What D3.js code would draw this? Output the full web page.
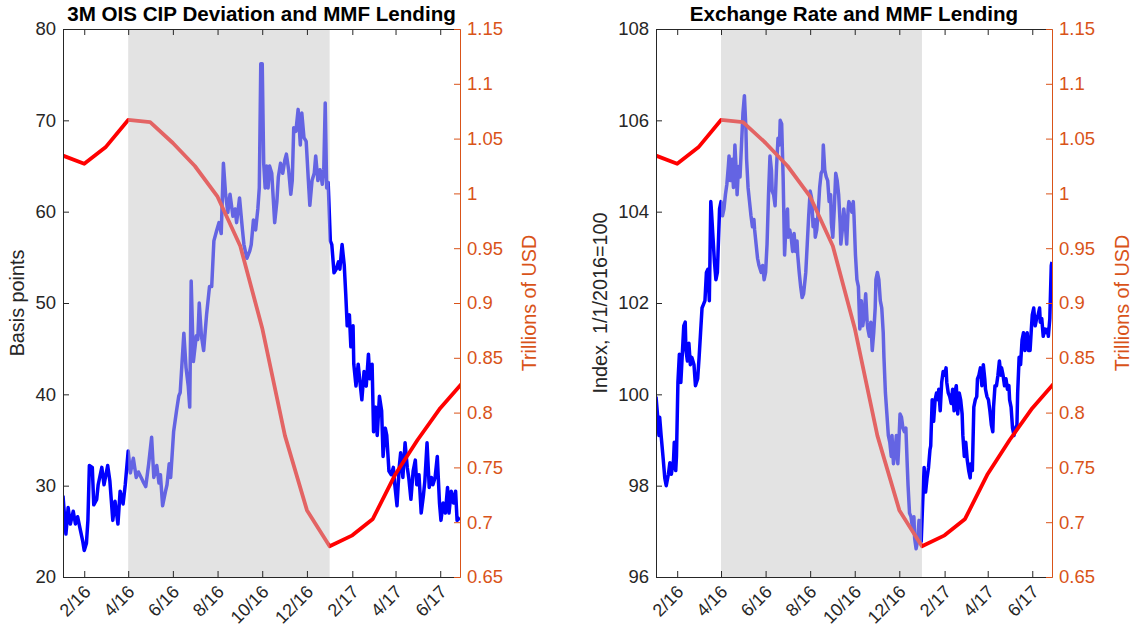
<!DOCTYPE html>
<html>
<head>
<meta charset="utf-8">
<script src="https://cdn.jsdelivr.net/npm/d3@7"></script>
<style>
  body { margin: 0; background: #fff; }
  text { font-family: "Liberation Sans", Arial, Helvetica, sans-serif; }
</style>
</head>
<body>
<script>
// Chart size
var svgWidth = 1135;
var svgHeight = 630;

// Date range of both panels and the shaded period
var xStart = "2016-01-03";
var xEnd = "2017-06-28";
var shadeStart = "2016-04-01";
var shadeEnd = "2017-01-01";

var xTickDates = ["2016-02-01", "2016-04-01", "2016-06-01", "2016-08-01", "2016-10-01",
  "2016-12-01", "2017-02-01", "2017-04-01", "2017-06-01"];
var xTickLabels = ["2/16", "4/16", "6/16", "8/16", "10/16", "12/16", "2/17", "4/17", "6/17"];

var cipTicks = [20, 30, 40, 50, 60, 70, 80];
var fxTicks = [96, 98, 100, 102, 104, 106, 108];
var mmfTicks = [0.65, 0.7, 0.75, 0.8, 0.85, 0.9, 0.95, 1, 1.05, 1.1, 1.15];

// MMF lending, trillions of USD (monthly)
var mmfLending = [
  ["2016-01-01", 1.035], ["2016-02-01", 1.027], ["2016-03-01", 1.042], ["2016-04-01", 1.067],
  ["2016-05-01", 1.065], ["2016-06-01", 1.046], ["2016-07-01", 1.025], ["2016-08-01", 0.997],
  ["2016-09-01", 0.952], ["2016-10-01", 0.877], ["2016-11-01", 0.779], ["2016-12-01", 0.711],
  ["2017-01-01", 0.678], ["2017-02-01", 0.688], ["2017-03-01", 0.703], ["2017-04-01", 0.744],
  ["2017-05-01", 0.775], ["2017-06-01", 0.804], ["2017-07-01", 0.827]
];

// 3M OIS CIP deviation, basis points
var cipDeviation = [
  ["2016-01-03", 28.9], ["2016-01-07", 24.7], ["2016-01-10", 27.6], ["2016-01-13", 25.8],
  ["2016-01-17", 27.2], ["2016-01-20", 25.8], ["2016-01-23", 26.6], ["2016-01-26", 25.4],
  ["2016-01-30", 23.9], ["2016-02-01", 22.9], ["2016-02-04", 23.7], ["2016-02-06", 26.2],
  ["2016-02-08", 32.2], ["2016-02-12", 32.0], ["2016-02-14", 27.9], ["2016-02-18", 28.5],
  ["2016-02-20", 30.1], ["2016-02-25", 32.0], ["2016-02-28", 30.1], ["2016-03-04", 32.2],
  ["2016-03-07", 30.5], ["2016-03-11", 26.2], ["2016-03-14", 28.3], ["2016-03-18", 25.8],
  ["2016-03-21", 29.4], ["2016-03-25", 28.0], ["2016-03-28", 30.1], ["2016-04-01", 33.8],
  ["2016-04-04", 31.4], ["2016-04-08", 33.0], ["2016-04-12", 30.9], ["2016-04-15", 31.5],
  ["2016-04-21", 30.5], ["2016-04-25", 29.9], ["2016-04-29", 32.4], ["2016-05-03", 35.3],
  ["2016-05-06", 30.9], ["2016-05-10", 32.2], ["2016-05-13", 30.3], ["2016-05-15", 31.2],
  ["2016-05-18", 27.8], ["2016-05-22", 29.4], ["2016-05-24", 30.1], ["2016-05-27", 32.4],
  ["2016-05-29", 30.9], ["2016-06-02", 35.9], ["2016-06-06", 38.2], ["2016-06-09", 39.8],
  ["2016-06-11", 40.2], ["2016-06-16", 46.7], ["2016-06-19", 42.9], ["2016-06-22", 40.9],
  ["2016-06-24", 38.6], ["2016-06-26", 52.4], ["2016-06-29", 43.6], ["2016-07-03", 46.4],
  ["2016-07-05", 46.0], ["2016-07-07", 50.0], ["2016-07-10", 46.4], ["2016-07-13", 44.8],
  ["2016-07-17", 48.7], ["2016-07-21", 51.8], ["2016-07-24", 51.8], ["2016-07-27", 56.8],
  ["2016-07-31", 58.0], ["2016-08-03", 58.8], ["2016-08-06", 57.6], ["2016-08-09", 65.3],
  ["2016-08-12", 61.9], ["2016-08-15", 59.9], ["2016-08-18", 61.9], ["2016-08-22", 59.5],
  ["2016-08-25", 60.3], ["2016-08-27", 58.8], ["2016-08-31", 61.5], ["2016-09-04", 58.0],
  ["2016-09-06", 56.4], ["2016-09-10", 54.9], ["2016-09-14", 55.7], ["2016-09-16", 56.4],
  ["2016-09-19", 59.1], ["2016-09-22", 58.0], ["2016-09-25", 60.3], ["2016-09-27", 62.6],
  ["2016-09-29", 76.2], ["2016-10-01", 76.2], ["2016-10-03", 65.3], ["2016-10-05", 62.6],
  ["2016-10-07", 65.0], ["2016-10-09", 62.6], ["2016-10-11", 65.0], ["2016-10-14", 64.2],
  ["2016-10-16", 61.5], ["2016-10-18", 58.8], ["2016-10-21", 61.1], ["2016-10-23", 63.8],
  ["2016-10-26", 65.3], ["2016-10-29", 64.2], ["2016-11-01", 65.7], ["2016-11-03", 66.3],
  ["2016-11-06", 64.6], ["2016-11-09", 61.9], ["2016-11-11", 63.4], ["2016-11-13", 69.2],
  ["2016-11-16", 68.8], ["2016-11-19", 71.2], ["2016-11-22", 67.3], ["2016-11-24", 70.8],
  ["2016-11-27", 68.1], ["2016-11-30", 67.7], ["2016-12-03", 63.4], ["2016-12-05", 60.7],
  ["2016-12-08", 63.4], ["2016-12-11", 64.2], ["2016-12-13", 66.1], ["2016-12-16", 63.4],
  ["2016-12-19", 64.6], ["2016-12-22", 63.0], ["2016-12-24", 64.6], ["2016-12-26", 71.9],
  ["2016-12-28", 62.6], ["2016-12-30", 63.2], ["2017-01-02", 56.8], ["2017-01-04", 56.4],
  ["2017-01-07", 53.3], ["2017-01-10", 53.7], ["2017-01-13", 54.5], ["2017-01-15", 53.7],
  ["2017-01-18", 56.4], ["2017-01-21", 54.1], ["2017-01-23", 51.0], ["2017-01-25", 47.5],
  ["2017-01-28", 48.7], ["2017-01-30", 45.2], ["2017-02-02", 47.5], ["2017-02-03", 43.3],
  ["2017-02-06", 40.9], ["2017-02-09", 43.3], ["2017-02-12", 40.9], ["2017-02-14", 39.4],
  ["2017-02-17", 42.5], ["2017-02-20", 40.9], ["2017-02-23", 44.4], ["2017-02-25", 41.7],
  ["2017-02-28", 43.3], ["2017-03-02", 35.9], ["2017-03-05", 38.6], ["2017-03-07", 35.5],
  ["2017-03-10", 39.8], ["2017-03-13", 38.2], ["2017-03-15", 33.2], ["2017-03-18", 36.3],
  ["2017-03-20", 35.5], ["2017-03-23", 31.6], ["2017-03-26", 31.2], ["2017-03-29", 32.0],
  ["2017-03-31", 30.1], ["2017-04-03", 27.8], ["2017-04-06", 32.0], ["2017-04-08", 33.6],
  ["2017-04-11", 30.9], ["2017-04-14", 34.7], ["2017-04-17", 32.0], ["2017-04-19", 30.9],
  ["2017-04-22", 28.5], ["2017-04-25", 31.6], ["2017-04-28", 32.8], ["2017-04-30", 30.1],
  ["2017-05-03", 31.2], ["2017-05-06", 27.0], ["2017-05-09", 28.9], ["2017-05-11", 30.5],
  ["2017-05-14", 34.7], ["2017-05-17", 29.8], ["2017-05-20", 30.9], ["2017-05-22", 30.1],
  ["2017-05-25", 30.9], ["2017-05-28", 33.2], ["2017-05-31", 28.1], ["2017-06-02", 26.2],
  ["2017-06-05", 28.1], ["2017-06-08", 27.0], ["2017-06-11", 29.8], ["2017-06-13", 27.0],
  ["2017-06-16", 29.4], ["2017-06-19", 28.1], ["2017-06-22", 29.4], ["2017-06-24", 26.2],
  ["2017-06-28", 26.5]
];

// Exchange rate index, 1/1/2016 = 100
var exchangeRate = [
  ["2016-01-03", 99.95], ["2016-01-05", 99.57], ["2016-01-07", 99.1], ["2016-01-08", 99.5],
  ["2016-01-10", 99.1], ["2016-01-13", 98.56], ["2016-01-15", 98.17], ["2016-01-17", 98.0],
  ["2016-01-20", 98.25], ["2016-01-22", 98.5], ["2016-01-24", 98.25], ["2016-01-27", 98.56],
  ["2016-01-28", 98.95], ["2016-01-30", 98.33], ["2016-01-31", 98.64], ["2016-02-02", 100.26],
  ["2016-02-04", 100.88], ["2016-02-06", 100.26], ["2016-02-08", 100.88], ["2016-02-10", 101.5],
  ["2016-02-12", 101.58], ["2016-02-13", 100.96], ["2016-02-15", 100.73], ["2016-02-17", 101.12],
  ["2016-02-19", 100.65], ["2016-02-21", 100.81], ["2016-02-24", 100.65], ["2016-02-26", 100.19],
  ["2016-02-29", 100.34], ["2016-03-02", 100.81], ["2016-03-04", 101.35], ["2016-03-06", 101.89],
  ["2016-03-08", 101.97], ["2016-03-10", 102.05], ["2016-03-12", 102.67], ["2016-03-14", 102.74],
  ["2016-03-16", 102.05], ["2016-03-18", 104.22], ["2016-03-19", 103.99], ["2016-03-21", 103.44],
  ["2016-03-23", 102.9], ["2016-03-25", 102.51], ["2016-03-27", 102.67], ["2016-03-29", 103.6],
  ["2016-03-30", 104.06], ["2016-04-01", 104.22], ["2016-04-03", 103.91], ["2016-04-05", 104.06],
  ["2016-04-07", 104.37], ["2016-04-09", 104.6], ["2016-04-11", 104.99], ["2016-04-12", 105.22],
  ["2016-04-14", 104.68], ["2016-04-16", 105.15], ["2016-04-18", 104.53], ["2016-04-20", 105.46],
  ["2016-04-22", 104.84], ["2016-04-23", 104.37], ["2016-04-25", 104.99], ["2016-04-27", 104.76],
  ["2016-04-29", 105.46], ["2016-05-01", 106.16], ["2016-05-03", 106.54], ["2016-05-05", 105.84],
  ["2016-05-06", 105.15], ["2016-05-08", 104.53], ["2016-05-10", 104.22], ["2016-05-12", 103.91],
  ["2016-05-14", 103.67], ["2016-05-16", 103.83], ["2016-05-17", 103.6], ["2016-05-19", 103.29],
  ["2016-05-21", 102.98], ["2016-05-23", 102.82], ["2016-05-26", 102.67], ["2016-05-28", 102.82],
  ["2016-05-30", 102.51], ["2016-06-01", 102.67], ["2016-06-03", 103.29], ["2016-06-05", 104.37],
  ["2016-06-07", 105.22], ["2016-06-09", 104.91], ["2016-06-10", 104.45], ["2016-06-12", 104.37],
  ["2016-06-14", 104.13], ["2016-06-16", 104.99], ["2016-06-18", 105.61], ["2016-06-20", 105.46],
  ["2016-06-21", 106.0], ["2016-06-23", 105.92], ["2016-06-25", 104.76], ["2016-06-27", 103.05],
  ["2016-06-29", 103.75], ["2016-07-01", 104.06], ["2016-07-02", 103.44], ["2016-07-04", 103.6],
  ["2016-07-06", 103.44], ["2016-07-08", 103.13], ["2016-07-10", 103.52], ["2016-07-12", 103.13],
  ["2016-07-14", 103.36], ["2016-07-15", 103.05], ["2016-07-17", 102.67], ["2016-07-19", 102.36],
  ["2016-07-21", 102.12], ["2016-07-23", 102.2], ["2016-07-25", 102.51], ["2016-07-26", 102.67],
  ["2016-07-28", 103.29], ["2016-07-30", 103.91], ["2016-08-01", 104.45], ["2016-08-03", 104.3],
  ["2016-08-05", 103.67], ["2016-08-07", 103.83], ["2016-08-08", 103.44], ["2016-08-10", 103.6],
  ["2016-08-12", 103.99], ["2016-08-14", 104.53], ["2016-08-16", 104.84], ["2016-08-18", 104.91],
  ["2016-08-19", 105.46], ["2016-08-21", 104.91], ["2016-08-23", 104.76], ["2016-08-25", 104.68],
  ["2016-08-27", 104.22], ["2016-08-29", 104.37], ["2016-08-30", 103.75], ["2016-09-01", 103.44],
  ["2016-09-03", 104.06], ["2016-09-05", 104.84], ["2016-09-07", 104.68], ["2016-09-09", 104.37],
  ["2016-09-11", 103.75], ["2016-09-12", 103.29], ["2016-09-14", 103.6], ["2016-09-16", 104.06],
  ["2016-09-18", 103.75], ["2016-09-20", 103.29], ["2016-09-22", 104.06], ["2016-09-23", 104.22],
  ["2016-09-25", 104.13], ["2016-09-27", 103.99], ["2016-09-29", 104.22], ["2016-09-30", 103.91],
  ["2016-10-02", 103.05], ["2016-10-04", 102.51], ["2016-10-06", 102.36], ["2016-10-08", 101.43],
  ["2016-10-10", 102.05], ["2016-10-12", 101.5], ["2016-10-14", 101.74], ["2016-10-16", 102.2],
  ["2016-10-18", 101.58], ["2016-10-19", 101.43], ["2016-10-21", 101.27], ["2016-10-23", 101.58],
  ["2016-10-25", 100.96], ["2016-10-27", 101.35], ["2016-10-29", 101.89], ["2016-10-30", 102.51],
  ["2016-11-01", 102.67], ["2016-11-03", 102.51], ["2016-11-05", 102.05], ["2016-11-07", 101.89],
  ["2016-11-09", 101.35], ["2016-11-10", 100.81], ["2016-11-12", 100.03], ["2016-11-14", 99.57],
  ["2016-11-16", 99.1], ["2016-11-18", 98.95], ["2016-11-20", 98.64], ["2016-11-21", 99.1],
  ["2016-11-23", 98.48], ["2016-11-25", 98.71], ["2016-11-27", 99.1], ["2016-11-29", 98.48],
  ["2016-11-30", 98.79], ["2016-12-02", 99.57], ["2016-12-04", 99.5], ["2016-12-06", 99.26],
  ["2016-12-08", 99.18], ["2016-12-10", 99.26], ["2016-12-12", 98.4], ["2016-12-13", 98.0],
  ["2016-12-15", 97.4], ["2016-12-17", 97.32], ["2016-12-19", 97.09], ["2016-12-21", 97.32],
  ["2016-12-22", 96.85], ["2016-12-24", 96.62], ["2016-12-26", 96.78], ["2016-12-28", 97.24],
  ["2016-12-30", 97.16], ["2016-12-31", 96.78], ["2017-01-02", 97.63], ["2017-01-04", 98.4],
  ["2017-01-06", 97.86], ["2017-01-08", 98.17], ["2017-01-10", 98.4], ["2017-01-12", 98.79],
  ["2017-01-13", 98.87], ["2017-01-15", 99.88], ["2017-01-17", 99.41], ["2017-01-19", 99.88],
  ["2017-01-21", 100.03], ["2017-01-23", 99.88], ["2017-01-24", 100.11], ["2017-01-26", 99.64],
  ["2017-01-28", 100.26], ["2017-01-30", 100.5], ["2017-02-01", 100.42], ["2017-02-03", 100.58],
  ["2017-02-04", 100.26], ["2017-02-06", 100.03], ["2017-02-08", 99.95], ["2017-02-10", 99.8],
  ["2017-02-12", 100.11], ["2017-02-14", 99.64], ["2017-02-15", 100.03], ["2017-02-17", 100.19],
  ["2017-02-19", 99.57], ["2017-02-21", 100.03], ["2017-02-23", 99.88], ["2017-02-25", 99.57],
  ["2017-02-26", 99.1], ["2017-02-28", 98.64], ["2017-03-02", 98.95], ["2017-03-04", 98.56],
  ["2017-03-06", 98.33], ["2017-03-08", 98.17], ["2017-03-09", 98.48], ["2017-03-11", 98.33],
  ["2017-03-13", 99.72], ["2017-03-15", 99.88], ["2017-03-17", 99.95], ["2017-03-18", 100.34],
  ["2017-03-20", 100.42], ["2017-03-22", 100.58], ["2017-03-24", 100.19], ["2017-03-26", 100.65],
  ["2017-03-28", 100.34], ["2017-03-29", 100.11], ["2017-03-31", 99.95], ["2017-04-02", 99.88],
  ["2017-04-04", 99.64], ["2017-04-06", 99.33], ["2017-04-08", 99.18], ["2017-04-09", 99.72],
  ["2017-04-11", 100.19], ["2017-04-13", 100.19], ["2017-04-15", 100.42], ["2017-04-17", 100.73],
  ["2017-04-19", 100.42], ["2017-04-20", 100.58], ["2017-04-22", 100.42], ["2017-04-24", 100.19],
  ["2017-04-26", 100.34], ["2017-04-28", 100.11], ["2017-04-30", 100.19], ["2017-05-01", 99.88],
  ["2017-05-03", 99.72], ["2017-05-05", 99.26], ["2017-05-07", 99.1], ["2017-05-09", 99.26],
  ["2017-05-11", 99.33], ["2017-05-12", 100.03], ["2017-05-14", 100.81], ["2017-05-16", 100.65],
  ["2017-05-18", 101.19], ["2017-05-20", 101.35], ["2017-05-22", 100.96], ["2017-05-23", 101.12],
  ["2017-05-25", 101.35], ["2017-05-27", 100.96], ["2017-05-29", 100.96], ["2017-05-31", 101.5],
  ["2017-06-01", 101.74], ["2017-06-03", 101.89], ["2017-06-05", 101.5], ["2017-06-07", 101.66],
  ["2017-06-09", 101.74], ["2017-06-11", 101.89], ["2017-06-12", 101.58], ["2017-06-14", 101.66],
  ["2017-06-16", 101.27], ["2017-06-18", 101.43], ["2017-06-20", 101.35], ["2017-06-22", 101.43],
  ["2017-06-23", 101.27], ["2017-06-25", 101.66], ["2017-06-27", 102.82], ["2017-06-28", 102.9]
];

// Layout
var plotTop = 29;
var plotBottom = 577;
var axisColor = "#262626";
var rightColor = "#D95319";
var fontFamily = '"Liberation Sans", Arial, Helvetica, sans-serif';

var panels = [
  { left: 63, right: 460, title: "3M OIS CIP Deviation and MMF Lending",
    yLabel: "Basis points", yLabelX: 24, rightLabelX: 536,
    yDomain: [20, 80], yTicks: cipTicks, series: cipDeviation },
  { left: 656, right: 1052, title: "Exchange Rate and MMF Lending",
    yLabel: "Index, 1/1/2016=100", yLabelX: 607, rightLabelX: 1129,
    yDomain: [96, 108], yTicks: fxTicks, series: exchangeRate }
];

var parseDate = d3.timeParse("%Y-%m-%d");

var svg = d3.select("body")
  .append("svg")
  .attr("width", svgWidth)
  .attr("height", svgHeight);

panels.forEach(function(p, i) {
  var xScale = d3.scaleTime()
    .domain([parseDate(xStart), parseDate(xEnd)])
    .range([p.left, p.right]);
  var yLeft = d3.scaleLinear().domain(p.yDomain).range([plotBottom, plotTop]);
  var yRight = d3.scaleLinear().domain([0.65, 1.15]).range([plotBottom, plotTop]);

  svg.append("clipPath").attr("id", "clip" + i)
    .append("rect")
    .attr("x", p.left).attr("y", plotTop)
    .attr("width", p.right - p.left).attr("height", plotBottom - plotTop);

  var plot = svg.append("g").attr("clip-path", "url(#clip" + i + ")");

  var leftLine = d3.line()
    .x(d => xScale(parseDate(d[0])))
    .y(d => yLeft(d[1]));
  var rightLine = d3.line()
    .x(d => xScale(parseDate(d[0])))
    .y(d => yRight(d[1]));

  plot.append("path")
    .datum(p.series)
    .attr("d", leftLine)
    .attr("fill", "none")
    .attr("stroke", "#0000ff")
    .attr("stroke-width", 3.5)
    .attr("stroke-linejoin", "round");

  plot.append("path")
    .datum(mmfLending)
    .attr("d", rightLine)
    .attr("fill", "none")
    .attr("stroke", "#ff0000")
    .attr("stroke-width", 3.8)
    .attr("stroke-linejoin", "round");

  // shaded period sits over the lines
  var s0 = xScale(parseDate(shadeStart));
  var s1 = xScale(parseDate(shadeEnd));
  plot.append("rect")
    .attr("x", s0).attr("y", plotTop)
    .attr("width", s1 - s0).attr("height", plotBottom - plotTop)
    .attr("fill", "#c8c8c8")
    .attr("fill-opacity", 0.5);

  var tickDates = xTickDates.map(parseDate);

  // bottom axis, inward ticks, rotated labels
  var bottomAxis = d3.axisBottom(xScale)
    .tickValues(tickDates)
    .tickSizeInner(-6).tickSizeOuter(0)
    .tickFormat((d, j) => xTickLabels[j]);
  var bx = svg.append("g")
    .attr("transform", `translate(0, ${plotBottom})`)
    .call(bottomAxis);
  bx.attr("font-size", 18).attr("font-family", fontFamily);
  bx.select(".domain").attr("stroke", axisColor);
  bx.selectAll("line").attr("stroke", axisColor);
  bx.selectAll("text")
    .attr("y", 0).attr("dy", null)
    .attr("fill", axisColor)
    .attr("text-anchor", "end")
    .attr("transform", "translate(7, 16) rotate(-45)");

  // top edge with ticks
  var topAxis = d3.axisTop(xScale)
    .tickValues(tickDates)
    .tickSizeInner(-6).tickSizeOuter(0)
    .tickFormat("");
  var tx = svg.append("g")
    .attr("transform", `translate(0, ${plotTop})`)
    .call(topAxis);
  tx.select(".domain").attr("stroke", axisColor);
  tx.selectAll("line").attr("stroke", axisColor);

  // left axis
  var leftAxis = d3.axisLeft(yLeft)
    .tickValues(p.yTicks)
    .tickSizeInner(-6).tickSizeOuter(0)
    .tickPadding(7);
  var lx = svg.append("g")
    .attr("transform", `translate(${p.left}, 0)`)
    .call(leftAxis);
  lx.attr("font-size", 18.5).attr("font-family", fontFamily);
  lx.select(".domain").attr("stroke", axisColor);
  lx.selectAll("line").attr("stroke", axisColor);
  lx.selectAll("text").attr("fill", axisColor);

  // right axis
  var rightAxis = d3.axisRight(yRight)
    .tickValues(mmfTicks)
    .tickSizeInner(-6).tickSizeOuter(0)
    .tickPadding(7)
    .tickFormat(d3.format(""));
  var rx = svg.append("g")
    .attr("transform", `translate(${p.right}, 0)`)
    .call(rightAxis);
  rx.attr("font-size", 18.5).attr("font-family", fontFamily);
  rx.select(".domain").attr("stroke", rightColor);
  rx.selectAll("line").attr("stroke", rightColor);
  rx.selectAll("text").attr("fill", rightColor);

  // title
  svg.append("text")
    .attr("x", (p.left + p.right) / 2)
    .attr("y", 21)
    .attr("text-anchor", "middle")
    .style("font-size", "20.6px")
    .style("font-weight", "bold")
    .attr("fill", "#000")
    .text(p.title);

  // y labels
  svg.append("text")
    .attr("transform", `translate(${p.yLabelX}, ${(plotTop + plotBottom) / 2}) rotate(-90)`)
    .attr("text-anchor", "middle")
    .style("font-size", "19.8px")
    .attr("fill", axisColor)
    .text(p.yLabel);

  svg.append("text")
    .attr("transform", `translate(${p.rightLabelX}, ${(plotTop + plotBottom) / 2}) rotate(-90)`)
    .attr("text-anchor", "middle")
    .style("font-size", "19.8px")
    .attr("fill", rightColor)
    .text("Trillions of USD");
});
</script>
</body>
</html>
